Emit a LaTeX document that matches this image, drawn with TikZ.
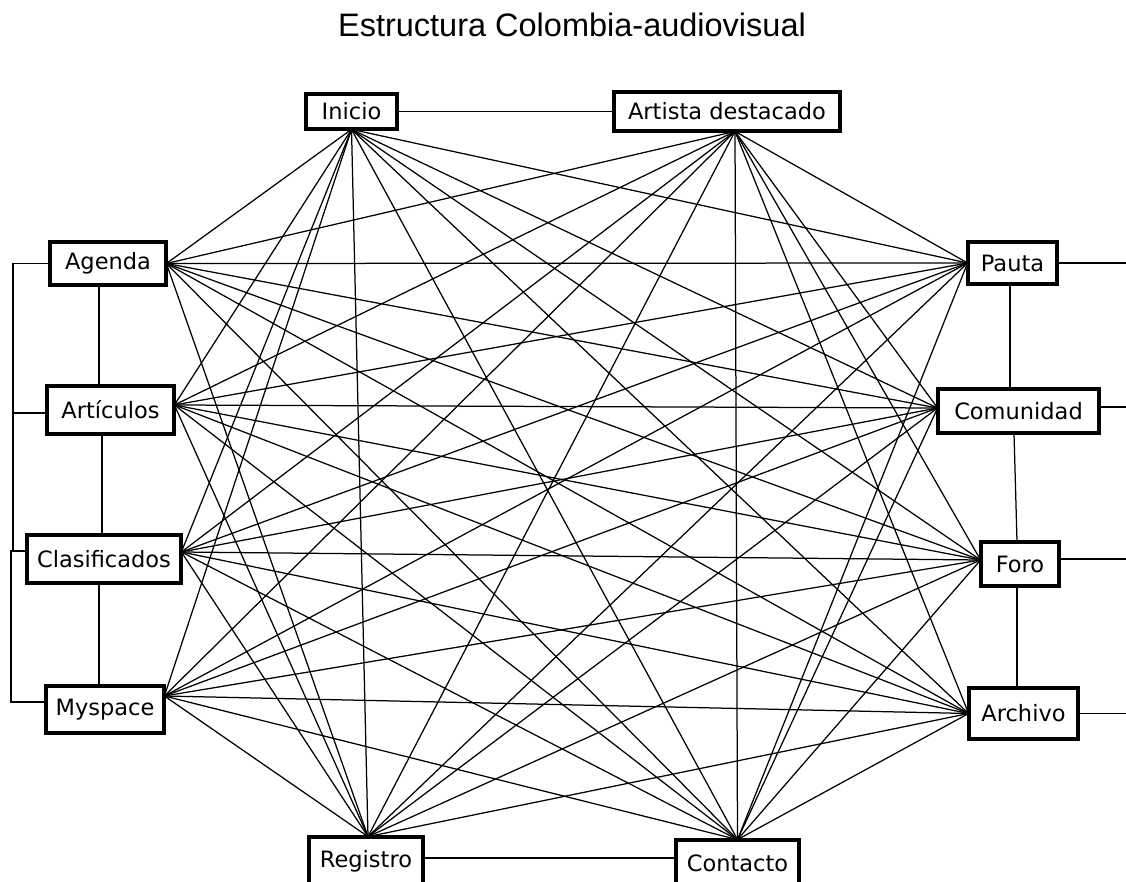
\documentclass[tikz,border=0pt]{standalone}
\usepackage{fontspec}
\setmainfont{DejaVu Sans}
\newfontfamily\titlefont{Liberation Sans}
\begin{document}
\begin{tikzpicture}[x=1pt,y=-1pt,
  boxnode/.style={draw,line width=2.8pt,inner sep=0pt,fill=white,
    font=\fontsize{22.5}{26}\selectfont},
  link/.style={line width=1.25pt,line cap=round}]
\useasboundingbox (0,0) rectangle (1126,882);
\fill[white] (0,0) rectangle (1126,882);
\node[font=\titlefont\fontsize{32.5}{38}\selectfont,anchor=base] (title) at (572,37) {Estructura Colombia-audiovisual};
% nodes
\node[boxnode,minimum width=89pt,minimum height=33pt] (ini) at (351.5,111.5) {Inicio};
\node[boxnode,minimum width=224pt,minimum height=37pt] (art) at (727,111.5) {Artista destacado};
\node[boxnode,minimum width=114pt,minimum height=41pt] (age) at (108,263.5) {Agenda};
\node[boxnode,minimum width=125pt,minimum height=46pt] (arti) at (110.5,410) {Artículos};
\node[boxnode,minimum width=152pt,minimum height=46pt] (cla) at (104,559) {Clasificados};
\node[boxnode,minimum width=116pt,minimum height=45pt] (mys) at (105,709.5) {Myspace};
\node[boxnode,minimum width=87pt,minimum height=40pt] (pau) at (1012.5,263) {Pauta};
\node[boxnode,minimum width=159pt,minimum height=42pt] (com) at (1018.5,411) {Comunidad};
\node[boxnode,minimum width=76pt,minimum height=42pt] (for) at (1020,564) {Foro};
\node[boxnode,minimum width=107pt,minimum height=49pt] (arc) at (1023.5,713.5) {Archivo};
\node[boxnode,minimum width=112pt,minimum height=46pt] (reg) at (366,861) {Registro};
\node[boxnode,minimum width=121pt,minimum height=44pt] (con) at (737.5,863) {Contacto};
% attachment points
\coordinate (p-ini) at (ini.south);
\coordinate (p-art) at ([xshift=8pt]art.south);
\coordinate (p-age) at (age.east);
\coordinate (p-arti) at ([yshift=5pt]arti.east);
\coordinate (p-cla) at ([yshift=7pt]cla.east);
\coordinate (p-mys) at ([yshift=13.5pt]mys.east);
\coordinate (p-pau) at (pau.west);
\coordinate (p-com) at ([yshift=3pt]com.west);
\coordinate (p-for) at ([yshift=4pt]for.west);
\coordinate (p-arc) at (arc.west);
\coordinate (p-reg) at ([xshift=2pt]reg.north);
\coordinate (p-con) at (con.north);
% top to others
\foreach \a in {ini,art}{
  \foreach \b in {age,arti,cla,mys,pau,com,for,arc,reg,con}{
    \draw[link] (p-\a) -- (p-\b);}}
% left to right and bottom
\foreach \a in {age,arti,cla,mys}{
  \foreach \b in {pau,com,for,arc,reg,con}{
    \draw[link] (p-\a) -- (p-\b);}}
% right to bottom
\foreach \a in {pau,com,for,arc}{
  \foreach \b in {reg,con}{
    \draw[link] (p-\a) -- (p-\b);}}
% group links
\draw[link] (ini.east) -- (art.west |- ini.east);
\draw[link] (reg.east |- 0,858) -- (con.west |- 0,858);
\draw[link] (age.south -| 99,0) -- (arti.north -| 99,0);
\draw[link] (arti.south -| 102,0) -- (cla.north -| 102,0);
\draw[link] (cla.south -| 99,0) -- (mys.north -| 99,0);
\draw[link] (age.west) -- (13,263.5) -- (13,551);
\draw[link] (arti.west |- 0,413) -- (13,413);
\draw[link] (cla.west |- 0,551) -- (11,551) -- (11,702) -- (mys.west |- 0,702);
\draw[link] (pau.south -| 1010,0) -- (com.north -| 1010,0);
\draw[link] (com.south -| 1014,0) -- (for.north -| 1017,0);
\draw[link] (for.south -| 1017,0) -- (arc.north -| 1017,0);
\draw[link] (pau.east) -- (1126,263);
\draw[link] (com.east |- 0,407) -- (1126,407);
\draw[link] (for.east |- 0,559) -- (1126,559);
\draw[link] (arc.east) -- (1126,713.5);
% redraw box outlines on top
\foreach \n in {ini,art,age,arti,cla,mys,pau,com,for,arc,reg,con}{
  \draw[line width=2.8pt] (\n.south west) rectangle (\n.north east);}
\end{tikzpicture}
\end{document}
